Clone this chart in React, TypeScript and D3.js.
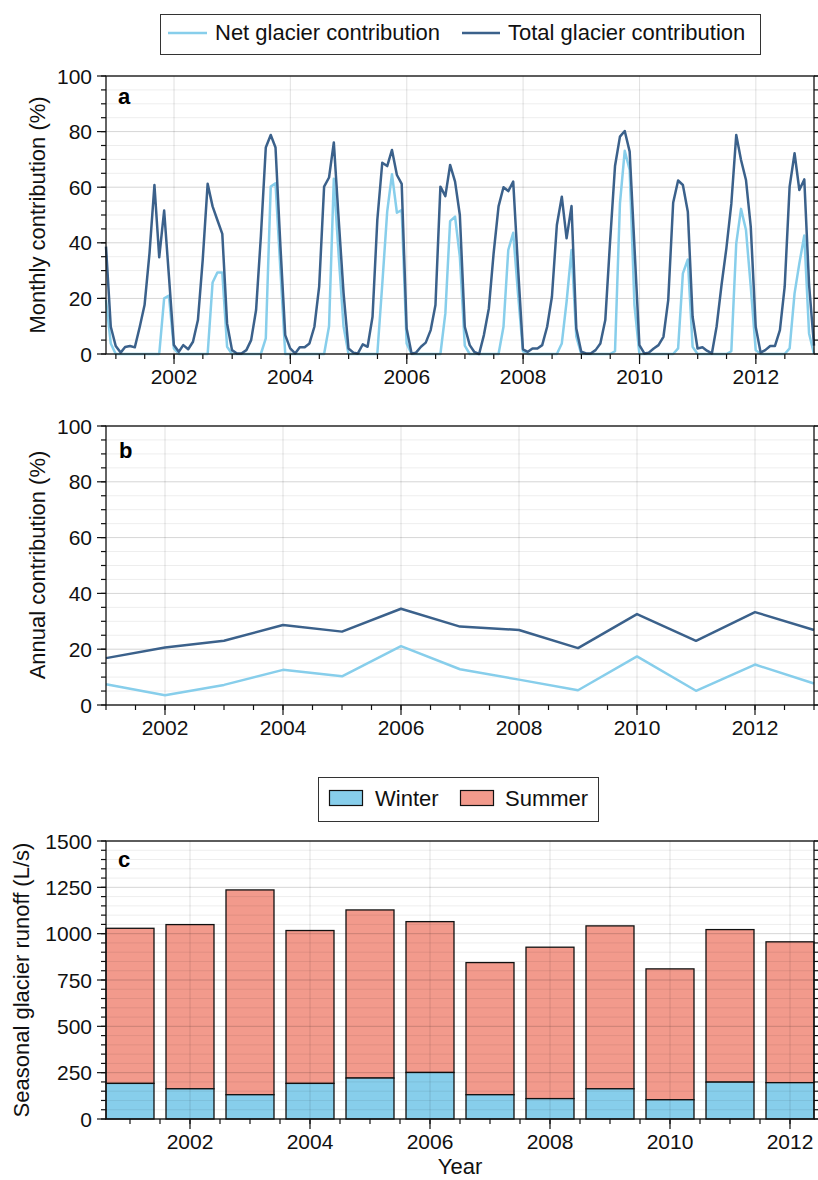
import * as d3 from "d3";
import { useEffect, useRef } from "react";

// Monthly contribution (%), month-end from Oct 2000 to Dec 2012
const monthlyTotal = [
  38.6, 9.8, 2.9, 0.5, 2.5, 2.9, 2.4, 9.8, 17.6, 36.2, 60.8, 34.8,
  51.6, 28, 3.2, 0.8, 3.2, 1.7, 4.4, 12.2, 33.8, 61.2, 53.1, 48.2,
  43.2, 11.0, 1.4, 0.2, 0.2, 1.4, 5.0, 15.8, 42.2, 74.3, 78.8, 74.3,
  38.6, 6.8, 2.0, 0.2, 2.4, 2.4, 3.8, 9.8, 24.2, 60.2, 63.5, 76.1,
  48, 22, 2.0, 0.5, 0.2, 3.5, 2.6, 13.4, 48.2, 68.8, 67.6, 73.4,
  64.4, 61.2, 9.2, 0.2, 0.5, 2.6, 4.1, 8.6, 17.6, 60.2, 56.8, 68.0,
  62.0, 50.0, 9.8, 3.2, 0.8, 0, 6.8, 16.4, 36.2, 53.1, 60.0, 58.6,
  62.0, 31.4, 1.7, 0.8, 2.0, 2.0, 3.2, 9.8, 20.6, 46.4, 56.6, 41.6,
  53.2, 9.2, 0.8, 0.2, 0.2, 1.4, 3.8, 12.2, 40.4, 67.6, 78.2, 80.2,
  72.8, 38.6, 3.2, 0.2, 0.5, 2.0, 3.2, 6.2, 19.4, 54.4, 62.4, 60.8,
  51.2, 13.4, 2.0, 2.4, 1.2, 0.2, 10, 25, 38, 54, 78.8, 69.8,
  62.6, 45.8, 9.8, 0.5, 1.4, 2.9, 2.9, 8.6, 24.2, 60.2, 72.2, 59.0,
  62.8, 25, 3,
];
const monthlyNet = [
  19.4, 3.8, 0, 0, 0, 0, 0, 0, 0, 0, 0, 0,
  20, 21, 2, 0, 0, 0, 0, 0, 0, 0, 25.7, 29.3,
  29.3, 2.6, 0, 0, 0, 0, 0, 0, 0, 5.6, 60.2, 61.4,
  30, 0, 0, 0, 0, 0, 0, 0, 0, 0, 10, 63,
  35, 10, 0, 0, 0, 0, 0, 0, 0, 25, 51.2, 64.7,
  50.8, 51.8, 3.8, 0, 0, 0, 0, 0, 0, 0, 14.6, 47.8,
  49.4, 35, 3, 0, 0, 0, 0, 0, 0, 0, 9.8, 37.4,
  43.6, 21.8, 1, 0, 0, 0, 0, 0, 0, 0, 3.8, 18.8,
  37.4, 6.2, 0, 0, 0, 0, 0, 0, 0, 1, 54.2, 73.1,
  66.2, 17.6, 0, 0, 0, 0, 0, 0, 0, 0, 2, 29,
  34, 2.6, 0, 0, 0, 0, 0, 0, 0, 1, 39.8, 52.2,
  44.6, 24.2, 1.4, 0, 0, 0, 0, 0, 0, 2, 21.8, 32.6,
  42.6, 7.4, 0,
];

// Annual contribution (%)
const annualYears = [2001, 2002, 2003, 2004, 2005, 2006, 2007, 2008, 2009, 2010, 2011, 2012, 2013];
const annualTotal = [16.8, 20.6, 23.0, 28.7, 26.3, 34.5, 28.1, 26.9, 20.4, 32.6, 23.0, 33.3, 26.9];
const annualNet = [7.4, 3.5, 7.2, 12.6, 10.3, 21.1, 12.8, 9.1, 5.3, 17.4, 5.1, 14.5, 7.7];

// Seasonal glacier runoff (L/s)
const barYears = [2001, 2002, 2003, 2004, 2005, 2006, 2007, 2008, 2009, 2010, 2011, 2012];
const winterRunoff = [192, 163, 131, 192, 221, 251, 131, 110, 163, 104, 199, 196];
const summerRunoff = [837, 886, 1105, 825, 907, 814, 713, 817, 879, 706, 823, 760];

const xTickYears = [2002, 2004, 2006, 2008, 2010, 2012];

const FONT = "'Liberation Sans', Arial, Helvetica, sans-serif";
const LIGHT = "#87ceeb";
const DARK = "#3b618b";
const WINTER = "#87ceeb";
const SUMMER = "#f29a8c";
const TICK_FS = "21px";
const LABEL_FS = "22px";

export default function App() {
  const svgRef = useRef<SVGSVGElement>(null);

  useEffect(() => {
    if (!svgRef.current) return;
    const svg = d3.select<SVGSVGElement, unknown>(svgRef.current);
    svg.selectAll("*").remove();
    svg.append("rect").attr("width", 818).attr("height", 1180).attr("fill", "#fff");

    const x0 = 106;
    const x1 = 814;

    // draws grid now, returns a function that draws ticks, frame and labels on top
    function frame(
      g: d3.Selection<SVGGElement, unknown, null, undefined>,
      y: d3.ScaleLinear<number, number>,
      yMajor: number[],
      yMinor: number[],
      xMajor: number[],
      xMinor: number[],
      xLabels: string[]
    ) {
      const [yb, yt] = y.range();
      const grid = g.append("g");
      yMinor.forEach((v) => {
        grid.append("line").attr("x1", x0).attr("x2", x1).attr("y1", y(v)).attr("y2", y(v))
          .attr("stroke", "#000").attr("stroke-opacity", 0.07).attr("stroke-width", 1);
      });
      yMajor.forEach((v) => {
        grid.append("line").attr("x1", x0).attr("x2", x1).attr("y1", y(v)).attr("y2", y(v))
          .attr("stroke", "#000").attr("stroke-opacity", 0.1).attr("stroke-width", 1);
      });
      xMajor.forEach((px) => {
        grid.append("line").attr("x1", px).attr("x2", px).attr("y1", yt).attr("y2", yb)
          .attr("stroke", "#000").attr("stroke-opacity", 0.12).attr("stroke-width", 1);
      });
      return () => {
        const ax = g.append("g").attr("stroke", "#111").attr("stroke-width", 1.2);
        yMinor.forEach((v) => {
          ax.append("line").attr("x1", x0 - 5).attr("x2", x0).attr("y1", y(v)).attr("y2", y(v));
          ax.append("line").attr("x1", x1).attr("x2", x1 + 4).attr("y1", y(v)).attr("y2", y(v));
        });
        yMajor.forEach((v) => {
          ax.append("line").attr("x1", x0 - 9).attr("x2", x0).attr("y1", y(v)).attr("y2", y(v));
          ax.append("line").attr("x1", x1).attr("x2", x1 + 6).attr("y1", y(v)).attr("y2", y(v));
        });
        xMinor.forEach((px) => {
          ax.append("line").attr("x1", px).attr("x2", px).attr("y1", yb).attr("y2", yb + 5);
        });
        xMajor.forEach((px) => {
          ax.append("line").attr("x1", px).attr("x2", px).attr("y1", yb).attr("y2", yb + 10);
        });
        g.append("rect").attr("x", x0).attr("y", yt).attr("width", x1 - x0).attr("height", yb - yt)
          .attr("fill", "none").attr("stroke", "#111").attr("stroke-width", 1.3);
        const txt = g.append("g").attr("font-family", FONT).attr("font-size", TICK_FS).attr("fill", "#111");
        yMajor.forEach((v) => {
          txt.append("text").attr("x", x0 - 14).attr("y", y(v)).attr("dy", "0.36em")
            .attr("text-anchor", "end").text(String(v));
        });
        xMajor.forEach((px, i) => {
          txt.append("text").attr("x", px).attr("y", yb + 30).attr("text-anchor", "middle").text(xLabels[i]);
        });
      };
    }

    function yTitle(text: string, bx: number, cy: number) {
      svg.append("text").attr("transform", `translate(${bx},${cy}) rotate(-90)`)
        .attr("text-anchor", "middle").attr("font-family", FONT)
        .attr("font-size", LABEL_FS).attr("fill", "#111").text(text);
    }

    function panelLabel(text: string, px: number, py: number) {
      svg.append("text").attr("x", px).attr("y", py).attr("font-family", FONT)
        .attr("font-weight", "bold").attr("font-size", "22px").attr("fill", "#000").text(text);
    }

    const pctMajor = d3.range(0, 101, 20);
    const pctMinor = d3.range(0, 101, 5);

    // ---------- Panel a ----------
    const monthDates = monthlyTotal.map((_, i) => new Date(2000, 10 + i, 0));
    const xa = d3.scaleTime()
      .domain([monthDates[0], monthDates[monthDates.length - 1]])
      .range([x0, x1]);
    const ya = d3.scaleLinear().domain([0, 100]).range([354, 76]);
    const ga = svg.append("g");
    const finishA = frame(
      ga, ya, pctMajor, pctMinor,
      xTickYears.map((yr) => xa(new Date(yr, 0, 1))),
      d3.timeMonth.every(6)!.range(new Date(2001, 0, 1), new Date(2013, 0, 1)).map((d) => xa(d)),
      xTickYears.map(String)
    );
    const lineA = (vals: number[]) =>
      d3.line<number>().x((_, i) => xa(monthDates[i])).y((v) => ya(v))(vals);
    ga.append("path").attr("d", lineA(monthlyNet)).attr("fill", "none").attr("stroke", LIGHT)
      .attr("stroke-width", 2.5).attr("stroke-linejoin", "round");
    ga.append("path").attr("d", lineA(monthlyTotal)).attr("fill", "none").attr("stroke", DARK)
      .attr("stroke-width", 2.5).attr("stroke-linejoin", "round");
    finishA();
    panelLabel("a", 118, 103.5);
    yTitle("Monthly contribution (%)", 45, 215);

    // legend a
    const la = svg.append("g");
    la.append("rect").attr("x", 160.5).attr("y", 14.5).attr("width", 600).attr("height", 40)
      .attr("fill", "#fff").attr("stroke", "#333").attr("stroke-width", 1);
    la.append("line").attr("x1", 168).attr("x2", 207).attr("y1", 33).attr("y2", 33)
      .attr("stroke", LIGHT).attr("stroke-width", 2.5);
    la.append("line").attr("x1", 462).attr("x2", 500).attr("y1", 33).attr("y2", 33)
      .attr("stroke", DARK).attr("stroke-width", 2.5);
    la.append("text").attr("x", 215).attr("y", 40).attr("font-family", FONT).attr("font-size", LABEL_FS)
      .attr("fill", "#111").text("Net glacier contribution");
    la.append("text").attr("x", 508).attr("y", 40).attr("font-family", FONT).attr("font-size", LABEL_FS)
      .attr("fill", "#111").text("Total glacier contribution");

    // ---------- Panel b ----------
    const xb = d3.scaleLinear().domain([2001, 2013]).range([x0, x1]);
    const yb = d3.scaleLinear().domain([0, 100]).range([705, 426]);
    const gb = svg.append("g");
    const finishB = frame(
      gb, yb, pctMajor, pctMinor,
      xTickYears.map((yr) => xb(yr)),
      d3.range(2001, 2013.01, 0.5).map((v) => xb(v)),
      xTickYears.map(String)
    );
    const lineB = (vals: number[]) =>
      d3.line<number>().x((_, i) => xb(annualYears[i])).y((v) => yb(v))(vals);
    gb.append("path").attr("d", lineB(annualNet)).attr("fill", "none").attr("stroke", LIGHT)
      .attr("stroke-width", 2.5).attr("stroke-linejoin", "round");
    gb.append("path").attr("d", lineB(annualTotal)).attr("fill", "none").attr("stroke", DARK)
      .attr("stroke-width", 2.5).attr("stroke-linejoin", "round");
    finishB();
    panelLabel("b", 119, 458);
    yTitle("Annual contribution (%)", 45, 565);

    // ---------- Panel c ----------
    const xc = d3.scaleLinear().domain([2000.6, 2012.4]).range([x0, x1]);
    const yc = d3.scaleLinear().domain([0, 1500]).range([1119, 841]);
    const gc = svg.append("g");
    const bw = xc(2001.4) - xc(2000.6);
    const bars = gc.append("g").attr("stroke", "#111").attr("stroke-width", 1.3);
    barYears.forEach((yr, i) => {
      const w = winterRunoff[i];
      const s = summerRunoff[i];
      bars.append("rect").attr("x", xc(yr - 0.4)).attr("width", bw)
        .attr("y", yc(w + s)).attr("height", yc(w) - yc(w + s)).attr("fill", SUMMER);
      bars.append("rect").attr("x", xc(yr - 0.4)).attr("width", bw)
        .attr("y", yc(w)).attr("height", yc(0) - yc(w)).attr("fill", WINTER);
    });
    const finishC = frame(
      gc, yc, d3.range(0, 1501, 250), d3.range(0, 1501, 50),
      xTickYears.map((yr) => xc(yr)),
      d3.range(2001, 2012.01, 0.5).map((v) => xc(v)),
      xTickYears.map(String)
    );
    finishC();
    panelLabel("c", 118, 866.5);
    yTitle("Seasonal glacier runoff (L/s)", 29, 980);
    svg.append("text").attr("x", 460).attr("y", 1174).attr("text-anchor", "middle")
      .attr("font-family", FONT).attr("font-size", LABEL_FS).attr("fill", "#111").text("Year");

    // legend c
    const lc = svg.append("g");
    lc.append("rect").attr("x", 318.5).attr("y", 777.5).attr("width", 280).attr("height", 44)
      .attr("fill", "#fff").attr("stroke", "#333").attr("stroke-width", 1);
    lc.append("rect").attr("x", 329.5).attr("y", 790.5).attr("width", 33).attr("height", 15)
      .attr("fill", WINTER).attr("stroke", "#111").attr("stroke-width", 1.2);
    lc.append("rect").attr("x", 460.5).attr("y", 790.5).attr("width", 33).attr("height", 15)
      .attr("fill", SUMMER).attr("stroke", "#111").attr("stroke-width", 1.2);
    lc.append("text").attr("x", 375).attr("y", 806).attr("font-family", FONT).attr("font-size", LABEL_FS)
      .attr("fill", "#111").text("Winter");
    lc.append("text").attr("x", 505).attr("y", 806).attr("font-family", FONT).attr("font-size", LABEL_FS)
      .attr("fill", "#111").text("Summer");
  }, []);

  return (
    <svg
      ref={svgRef}
      width={818}
      height={1180}
      style={{ position: "absolute", left: 0, top: 0 }}
    ></svg>
  );
}
